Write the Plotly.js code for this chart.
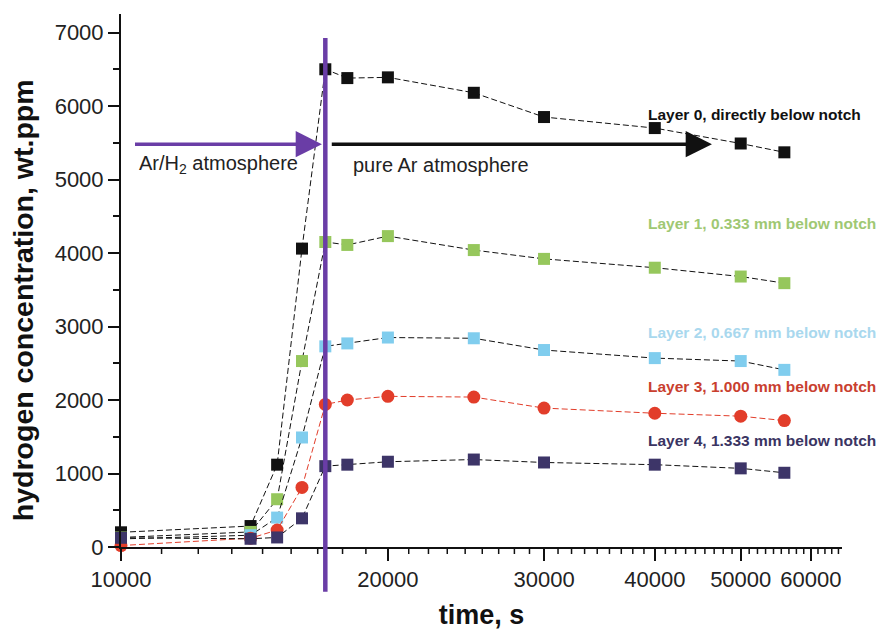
<!DOCTYPE html>
<html><head><meta charset="utf-8">
<script src="https://cdn.plot.ly/plotly-3.0.1.min.js"></script>
<style>body{margin:0;background:#fff}#chart{width:881px;height:630px}</style>
</head><body><div id="chart"></div>
<script>
// ---- data ----
const time   = [10000, 14000, 15000, 16000, 17000, 18000, 20000, 25000, 30000, 40000, 50000, 56000];
const layer0 = [200, 285, 1120, 4060, 6500, 6380, 6390, 6180, 5850, 5700, 5490, 5370];
const layer1 = [130, 205, 650, 2530, 4150, 4110, 4230, 4040, 3920, 3800, 3680, 3590];
const layer2 = [110, 160, 400, 1490, 2730, 2770, 2850, 2840, 2680, 2570, 2530, 2410];
const layer3 = [20, 120, 230, 810, 1940, 2000, 2050, 2040, 1890, 1820, 1780, 1720];
const layer4 = [125, 112, 130, 390, 1100, 1120, 1160, 1190, 1150, 1120, 1070, 1010];

const seriesNames  = ['Layer 0, directly below notch', 'Layer 1, 0.333 mm below notch',
                      'Layer 2, 0.667 mm below notch', 'Layer 3, 1.000 mm below notch',
                      'Layer 4, 1.333 mm below notch'];
const seriesValues = [layer0, layer1, layer2, layer3, layer4];
const seriesColors = ['#111111', '#96c75c', '#80cdee', '#e23d2a', '#3d3568'];
const labelColors  = ['#111111', '#9fc873', '#a9d8ee', '#c9402f', '#3a3462'];
const labelY       = [5880, 4395, 2925, 2180, 1445];
const labelX       = 39100;

const xTickVals = [10000, 20000, 30000, 40000, 50000, 60000];
const xTickText = ['10000', '20000', '30000', '40000', '50000', '60000'];
const yTickVals = [0, 1000, 2000, 3000, 4000, 5000, 6000, 7000];
const yTickText = ['0', '1000', '2000', '3000', '4000', '5000', '6000', '7000'];

const switchTime = 17000;          // change of atmosphere
const arrowLevel = 5480;
const arH2Start = 10330, arH2End = 16850;
const arStart = 17220, arEnd = 46400;
const textLevel = 5200;

// ---- styling ----
const FONT = 'Liberation Sans, Arial, Helvetica, sans-serif';
const purple = '#6a3da6';
const X_RANGE = [4, 4.8132];
const PLOT_H = 630 - 14 - 83;

// minor ticks of the log axis: 8 per major interval (as in the original software)
const minorX = [];
for (let k = 0; k < xTickVals.length; k++) {
  for (let j = 1; j <= 8; j++) {
    const v = xTickVals[k] + 10000 * j / 9;
    if (v < 65000) minorX.push(v);
  }
}

const traces = seriesValues.map(function (vals, i) {
  return {
    x: time, y: vals, type: 'scatter', mode: 'lines+markers', name: seriesNames[i],
    line: {color: i === 3 ? seriesColors[3] : '#111111', width: 1, dash: '6px,3px'},
    marker: {symbol: i === 3 ? 'circle' : 'square', size: i === 3 ? 13 : 12,
             color: seriesColors[i], line: {width: 0}},
    cliponaxis: false, hoverinfo: 'x+y'
  };
});

const annotations = seriesNames.map(function (n, i) {
  return {xref: 'x', yref: 'y', x: Math.log10(labelX), y: labelY[i], xanchor: 'left', yanchor: 'middle',
          text: '<b>' + n + '</b>', showarrow: false,
          font: {family: FONT, size: 15.5, color: labelColors[i]}};
});
annotations.push(
  {xref: 'x', yref: 'y', axref: 'x', ayref: 'y', x: Math.log10(arH2End), y: arrowLevel,
   ax: Math.log10(arH2Start), ay: arrowLevel, text: '', showarrow: true,
   arrowhead: 2, arrowsize: 1.5, arrowwidth: 3.5, arrowcolor: purple},
  {xref: 'x', yref: 'y', axref: 'x', ayref: 'y', x: Math.log10(arEnd), y: arrowLevel,
   ax: Math.log10(arStart), ay: arrowLevel, text: '', showarrow: true,
   arrowhead: 2, arrowsize: 1.5, arrowwidth: 3.5, arrowcolor: '#111111'},
  {xref: 'x', yref: 'y', x: Math.log10(10432), y: textLevel, xanchor: 'left', yanchor: 'middle',
   text: 'Ar/H<sub>2</sub> atmosphere', showarrow: false, font: {family: FONT, size: 20, color: '#222'}},
  {xref: 'x', yref: 'y', x: Math.log10(18185), y: textLevel, xanchor: 'left', yanchor: 'middle',
   text: 'pure Ar atmosphere', showarrow: false, font: {family: FONT, size: 20, color: '#222'}},
  {xref: 'paper', yref: 'paper', x: -0.1357, y: 0.4634, xanchor: 'center', yanchor: 'middle',
   textangle: -90, text: '<b>hydrogen concentration, wt.ppm</b>', showarrow: false,
   font: {family: FONT, size: 28.5, color: '#111'}}
);

const shapes = minorX.map(function (v) {
  return {type: 'line', xref: 'x', yref: 'paper', x0: v, x1: v, y0: 0, y1: -7 / PLOT_H,
          line: {color: '#111', width: 1.5}, layer: 'above'};
});
shapes.push({type: 'line', xref: 'x', yref: 'paper', x0: switchTime, x1: switchTime, y0: -0.084, y1: 0.955,
             line: {color: purple, width: 4.5}});

const layout = {
  width: 881, height: 630,
  margin: {l: 121, r: 39, t: 14, b: 83},
  paper_bgcolor: '#ffffff', plot_bgcolor: '#ffffff',
  showlegend: false,
  font: {family: FONT, color: '#222'},
  xaxis: {
    type: 'log', range: X_RANGE,
    tickmode: 'array', tickvals: xTickVals, ticktext: xTickText,
    ticks: 'outside', ticklen: 12, tickwidth: 2, tickcolor: '#111',
    showline: true, linewidth: 2, linecolor: '#111', showgrid: false, zeroline: false,
    tickfont: {family: FONT, size: 22, color: '#222'},
    title: {text: '<b>time, s</b>', font: {family: FONT, size: 27, color: '#111'}, standoff: 18}
  },
  yaxis: {
    range: [0, 7252],
    tickmode: 'array', tickvals: yTickVals, ticktext: yTickText,
    ticks: 'outside', ticklen: 11, tickwidth: 2, tickcolor: '#111',
    showline: true, linewidth: 2, linecolor: '#111', showgrid: false, zeroline: false,
    tickfont: {family: FONT, size: 22, color: '#222'},
    minor: {dtick: 500, ticks: 'outside', ticklen: 6, tickwidth: 1.5, tickcolor: '#111', showgrid: false}
  },
  shapes: shapes,
  annotations: annotations
};

Plotly.newPlot('chart', traces, layout, {displayModeBar: false, responsive: false});
</script>
</body></html>
